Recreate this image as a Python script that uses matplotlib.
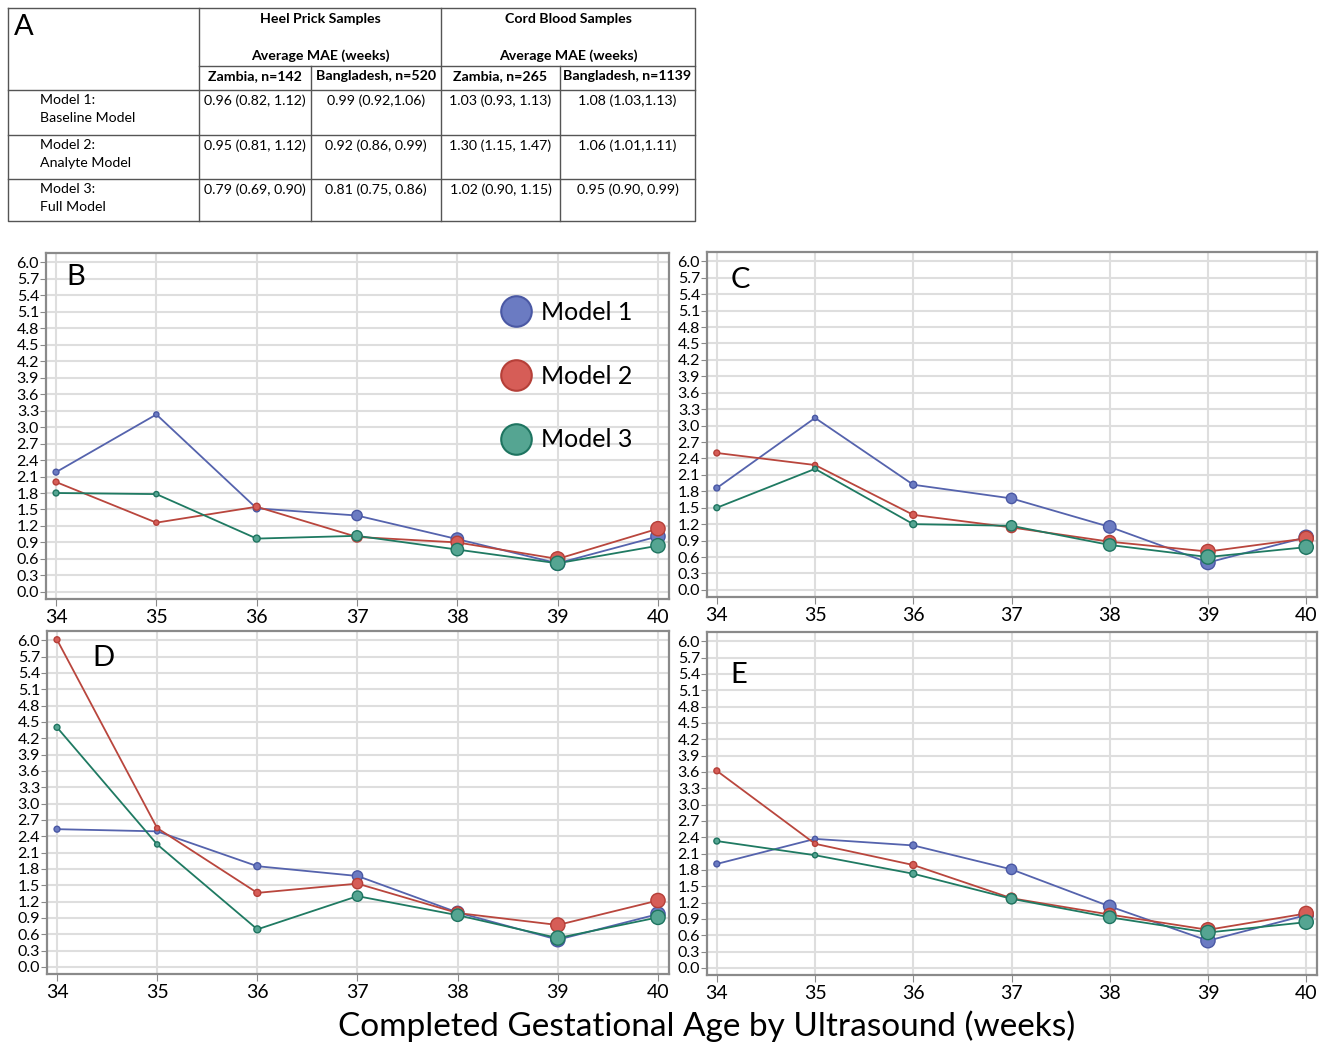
import matplotlib
matplotlib.use("Agg")
import matplotlib.pyplot as plt
import numpy as np
from matplotlib.lines import Line2D

plt.rcParams['font.family'] = ['Lato', 'DejaVu Sans']

# --- data -------------------------------------------------------------
weeks = [34, 35, 36, 37, 38, 39, 40]
models = ["Model 1", "Model 2", "Model 3"]

# average MAE (weeks) per completed gestational week
b_m1 = [2.18, 3.23, 1.52, 1.39, 0.96, 0.52, 1.01]
b_m2 = [2.00, 1.26, 1.55, 1.00, 0.90, 0.60, 1.15]
b_m3 = [1.80, 1.78, 0.97, 1.02, 0.77, 0.52, 0.84]

c_m1 = [1.86, 3.14, 1.92, 1.67, 1.15, 0.50, 0.96]
c_m2 = [2.50, 2.28, 1.37, 1.14, 0.88, 0.70, 0.94]
c_m3 = [1.50, 2.21, 1.20, 1.17, 0.82, 0.60, 0.78]

d_m1 = [2.53, 2.49, 1.85, 1.67, 1.00, 0.50, 0.97]
d_m2 = [6.01, 2.55, 1.36, 1.53, 0.99, 0.77, 1.22]
d_m3 = [4.40, 2.25, 0.69, 1.30, 0.95, 0.53, 0.91]

e_m1 = [1.91, 2.37, 2.25, 1.81, 1.13, 0.50, 0.97]
e_m2 = [3.62, 2.28, 1.89, 1.28, 0.98, 0.70, 1.00]
e_m3 = [2.33, 2.07, 1.73, 1.27, 0.93, 0.65, 0.84]

# table (panel A)
tab_groups = ["Heel Prick Samples", "Cord Blood Samples"]
tab_cols = ["Zambia, n=142", "Bangladesh, n=520", "Zambia, n=265", "Bangladesh, n=1139"]
tab_rows = ["Model 1:\nBaseline Model", "Model 2:\nAnalyte Model", "Model 3:\nFull Model"]
tab_vals = [
    ["0.96 (0.82, 1.12)", "0.99 (0.92,1.06)", "1.03 (0.93, 1.13)", "1.08 (1.03,1.13)"],
    ["0.95 (0.81, 1.12)", "0.92 (0.86, 0.99)", "1.30 (1.15, 1.47)", "1.06 (1.01,1.11)"],
    ["0.79 (0.69, 0.90)", "0.81 (0.75, 0.86)", "1.02 (0.90, 1.15)", "0.95 (0.90, 0.99)"],
]

# --- style -------------------------------------------------------------
line_col = ["#5563ad", "#b9463d", "#1f7a62"]
face_col = ["#6b7bc2", "#d65d57", "#55a592"]
edge_col = ["#4a58a4", "#b53f38", "#1e7460"]
msize = [18, 14, 25, 55, 80, 105, 105]   # marker area grows toward term

W, H = 1326, 1042
fig = plt.figure(figsize=(W / 100, H / 100), dpi=100)


def px_axes(l, t, r, b):
    return fig.add_axes([l / W, 1 - b / H, (r - l) / W, (b - t) / H])


def panel(ax, series, letter, lx, ly):
    ax.set_xlim(33.9, 40.11)
    ax.set_ylim(-0.13, 6.17)
    ax.set_xticks(weeks)
    yt = np.round(np.arange(0, 6.01, 0.3), 1)
    ax.set_yticks(yt)
    ax.set_yticklabels(["%.1f" % v for v in yt])
    ax.grid(True, color="#dedede", lw=1.5)
    ax.set_axisbelow(True)
    for s in ax.spines.values():
        s.set_color("#8a8a8a")
        s.set_linewidth(1.6)
    ax.tick_params(axis="y", labelsize=11.5, length=4, color="#8a8a8a", pad=1)
    ax.tick_params(axis="x", labelsize=14, length=5, color="#8a8a8a", pad=2)
    for i, ys in enumerate(series):
        ax.plot(weeks, ys, color=line_col[i], lw=1.3, zorder=3)
    for i, ys in enumerate(series):
        ax.scatter(weeks, ys, s=msize, color=face_col[i], edgecolor=edge_col[i],
                   lw=1.0, zorder=4)
    ax.text(lx, ly, letter, transform=ax.transAxes, fontsize=21, va="center", ha="center")


axB = px_axes(46, 253, 669, 599)
axC = px_axes(707, 252, 1317, 597)
axD = px_axes(47, 631, 669, 974)
axE = px_axes(707, 632, 1317, 975)

panel(axB, [b_m1, b_m2, b_m3], "B", 0.048, 0.93)
panel(axC, [c_m1, c_m2, c_m3], "C", 0.054, 0.919)
panel(axD, [d_m1, d_m2, d_m3], "D", 0.09, 0.921)
panel(axE, [e_m1, e_m2, e_m3], "E", 0.052, 0.875)

handles = [Line2D([], [], ls="none", marker="o", markersize=22, markerfacecolor=face_col[i],
                  markeredgecolor=edge_col[i], markeredgewidth=1.5) for i in range(3)]
axB.legend(handles, models, loc="upper left", bbox_to_anchor=(0.694, 0.898), frameon=False,
           fontsize=18, labelspacing=1.63, handletextpad=0.0, borderpad=0)

fig.text(707 / W, 1 - 1026 / H, "Completed Gestational Age by Ultrasound (weeks)",
         fontsize=24, ha="center", va="center")

# --- table A -----------------------------------------------------------
tab = fig.add_axes([0, 0, 1, 1])
tab.set_xlim(0, W)
tab.set_ylim(H, 0)
tab.axis("off")
lc = "#555555"
xs = [8, 199, 311, 441, 560, 695]
tab.plot([8, 695, 695, 8, 8], [8, 8, 221, 221, 8], color=lc, lw=1)
for y in [90, 135, 179]:
    tab.plot([8, 695], [y, y], color=lc, lw=1)
tab.plot([199, 695], [66, 66], color=lc, lw=1)
for x in [199, 441]:
    tab.plot([x, x], [8, 221], color=lc, lw=1)
for x in [311, 560]:
    tab.plot([x, x], [66, 221], color=lc, lw=1)

tab.text(14, 27, "A", fontsize=21, va="center", ha="left")
for g, (x0, x1) in zip(tab_groups, [(199, 441), (441, 695)]):
    tab.text((x0 + x1) / 2, 19, g, fontsize=10.2, fontweight="bold", ha="center", va="center")
    tab.text((x0 + x1) / 2, 56, "Average MAE (weeks)", fontsize=10.2, fontweight="bold",
             ha="center", va="center")
for j, c in enumerate(tab_cols):
    tab.text((xs[j + 1] + xs[j + 2]) / 2, 76, c, fontsize=10.2, fontweight="bold",
             ha="center", va="center")
row_tops = [90, 135, 179]
for i, r in enumerate(tab_rows):
    tab.text(40, row_tops[i] + 4, r, fontsize=10.2, ha="left", va="top", linespacing=1.6)
    for j, v in enumerate(tab_vals[i]):
        tab.text((xs[j + 1] + xs[j + 2]) / 2, row_tops[i] + 11, v, fontsize=10.2,
                 ha="center", va="center")

fig.savefig("out.png", dpi=100)
